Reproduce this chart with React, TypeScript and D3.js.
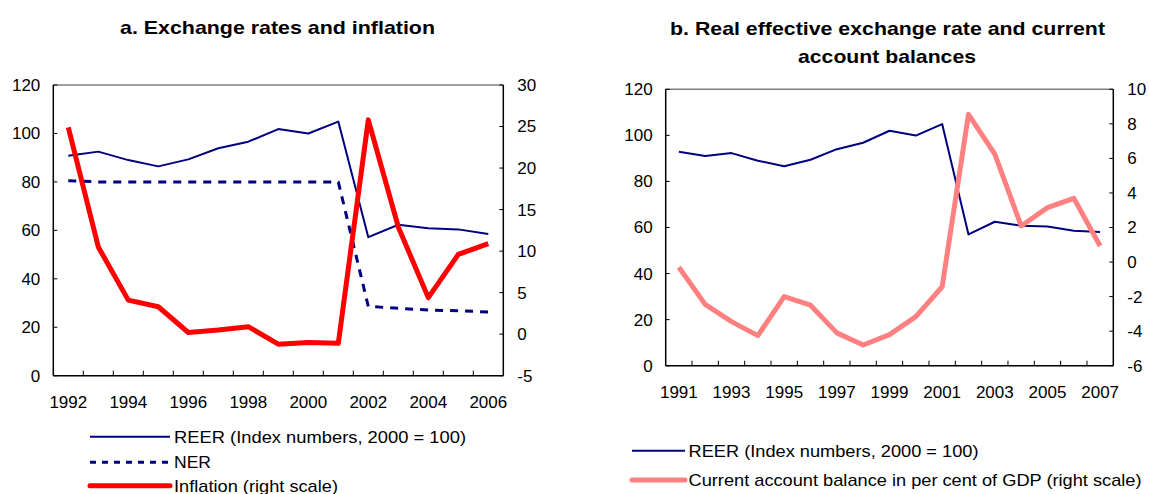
import React from "react";
import * as d3 from "d3";

const yearsA = [1992,1993,1994,1995,1996,1997,1998,1999,2000,2001,2002,2003,2004,2005,2006];
const reerA = [90.8,92.5,89.0,86.4,89.3,93.9,96.6,101.8,100.0,104.9,57.2,62.3,60.9,60.4,58.5];
const nerA = [80.5,80,80,80,80,80,80,80,80,80,28.6,27.8,27.1,26.8,26.3];
const inflationA = [24.9,10.5,4.1,3.3,0.2,0.5,0.9,-1.2,-1.0,-1.1,25.8,12.9,4.4,9.6,10.9];

const yearsB = [1991,1992,1993,1994,1995,1996,1997,1998,1999,2000,2001,2002,2003,2004,2005,2006,2007];
const reerB = [92.9,91.0,92.3,89.0,86.6,89.4,94.0,96.8,102.0,99.9,104.9,57.0,62.5,60.8,60.4,58.6,58.0];
const caB = [-0.3,-2.45,-3.45,-4.26,-2.0,-2.5,-4.1,-4.8,-4.2,-3.16,-1.43,8.55,6.25,2.09,3.15,3.69,0.93];

const leftTicks = [0,20,40,60,80,100,120];
const rightTicksA = [-5,0,5,10,15,20,25,30];
const rightTicksB = [-6,-4,-2,0,2,4,6,8,10];

const NAVY = "#000080";
const FONT = "Arial, 'Liberation Sans', sans-serif";

type Series = { values: number[]; axis: "left" | "right"; color: string; width: number; dash?: string };

function Panel(props: {
  x0: number; x1: number; yTop: number; yBot: number;
  years: number[]; rightDomain: [number, number]; rightTicks: number[];
  series: Series[]; labelStep: number; labelY: number;
}) {
  const { x0, x1, yTop, yBot, years, rightDomain, rightTicks, series, labelY } = props;
  const x = d3.scaleBand<number>().domain(years).range([x0, x1]);
  const yL = d3.scaleLinear().domain([0, 120]).range([yBot, yTop]);
  const yR = d3.scaleLinear().domain(rightDomain).range([yBot, yTop]);
  const cx = (yr: number) => (x(yr) as number) + x.bandwidth() / 2;
  const boundaries = years.slice(1).map((yr) => x(yr) as number);
  return (
    <g>
      <line x1={x0} x2={x1} y1={yTop} y2={yTop} stroke="#808080" strokeWidth={1.5} />
      {series.map((s, i) => {
        const sc = s.axis === "left" ? yL : yR;
        const line = d3.line<number>().x((_, j) => cx(years[j])).y((v) => sc(v));
        return (
          <path key={i} d={line(s.values) || ""} fill="none" stroke={s.color}
            strokeWidth={s.width} strokeDasharray={s.dash} strokeLinejoin="round" />
        );
      })}
      <line x1={x0} x2={x0} y1={yTop} y2={yBot} stroke="#000" strokeWidth={1.5} />
      <line x1={x1} x2={x1} y1={yTop} y2={yBot} stroke="#000" strokeWidth={1.5} />
      <line x1={x0} x2={x1} y1={yBot} y2={yBot} stroke="#000" strokeWidth={1.5} />
      {boundaries.map((b, i) => (
        <line key={i} x1={b} x2={b} y1={yBot} y2={yBot - 5} stroke="#000" strokeWidth={1} />
      ))}
      {leftTicks.map((t) => (
        <g key={"l" + t}>
          <line x1={x0} x2={x0 + 4} y1={yL(t)} y2={yL(t)} stroke="#000" />
          <text x={x0 - 13} y={yL(t)} dy="0.35em" textAnchor="end" fontSize={17} fontFamily={FONT}>{t}</text>
        </g>
      ))}
      {rightTicks.map((t) => (
        <g key={"r" + t}>
          <line x1={x1} x2={x1 - 4} y1={yR(t)} y2={yR(t)} stroke="#000" />
          <text x={x1 + 14} y={yR(t)} dy="0.35em" textAnchor="start" fontSize={17} fontFamily={FONT}>{t}</text>
        </g>
      ))}
      {years.filter((_, i) => i % props.labelStep === 0).map((yr) => (
        <text key={yr} x={cx(yr)} y={labelY} textAnchor="middle" fontSize={17} fontFamily={FONT}>{yr}</text>
      ))}
    </g>
  );
}

export default function App() {
  const stretch = { lengthAdjust: "spacingAndGlyphs" as const };
  return (
    <svg width={1149} height={494} style={{ position: "absolute", left: 0, top: 0, background: "#fff" }}>
      <rect width={1149} height={494} fill="#fff" />
      <text x={120} y={34} fontSize={19} fontWeight="bold" fontFamily={FONT} textLength={315} {...stretch}>a. Exchange rates and inflation</text>
      <text x={670} y={35} fontSize={19} fontWeight="bold" fontFamily={FONT} textLength={435} {...stretch}>b. Real effective exchange rate and current</text>
      <text x={798} y={63} fontSize={19} fontWeight="bold" fontFamily={FONT} textLength={178} {...stretch}>account balances</text>

      <Panel x0={53.3} x1={503.3} yTop={85} yBot={375.7} years={yearsA}
        rightDomain={[-5, 30]} rightTicks={rightTicksA} labelStep={2} labelY={408}
        series={[
          { values: reerA, axis: "left", color: NAVY, width: 2 },
          { values: nerA, axis: "left", color: NAVY, width: 3, dash: "8 7" },
          { values: inflationA, axis: "right", color: "#FF0000", width: 5 },
        ]} />

      <Panel x0={665.7} x1={1113.3} yTop={89.3} yBot={365.7} years={yearsB}
        rightDomain={[-6, 10]} rightTicks={rightTicksB} labelStep={2} labelY={398}
        series={[
          { values: reerB, axis: "left", color: NAVY, width: 2 },
          { values: caB, axis: "right", color: "#FF8080", width: 5 },
        ]} />

      {/* Legend a */}
      <line x1={90} x2={170} y1={436.7} y2={436.7} stroke={NAVY} strokeWidth={2} />
      <text x={174} y={436.7} dy="0.35em" fontSize={17} fontFamily={FONT} textLength={292} {...stretch}>REER (Index numbers, 2000 = 100)</text>
      <line x1={90} x2={170} y1={462.3} y2={462.3} stroke={NAVY} strokeWidth={3} strokeDasharray="6 6" />
      <text x={174} y={462.3} dy="0.35em" fontSize={17} fontFamily={FONT} textLength={37} {...stretch}>NER</text>
      <line x1={90} x2={170} y1={485.7} y2={485.7} stroke="#FF0000" strokeWidth={5} strokeLinecap="round" />
      <text x={174} y={485.7} dy="0.35em" fontSize={17} fontFamily={FONT} textLength={164} {...stretch}>Inflation (right scale)</text>

      {/* Legend b */}
      <line x1={632} x2={685} y1={450.7} y2={450.7} stroke={NAVY} strokeWidth={2} />
      <text x={688.5} y={450.7} dy="0.35em" fontSize={17} fontFamily={FONT} textLength={290} {...stretch}>REER (Index numbers, 2000 = 100)</text>
      <line x1={632} x2={685} y1={480} y2={480} stroke="#FF8080" strokeWidth={5} strokeLinecap="round" />
      <text x={688.5} y={480} dy="0.35em" fontSize={17} fontFamily={FONT} textLength={453} {...stretch}>Current account balance in per cent of GDP (right scale)</text>
    </svg>
  );
}
